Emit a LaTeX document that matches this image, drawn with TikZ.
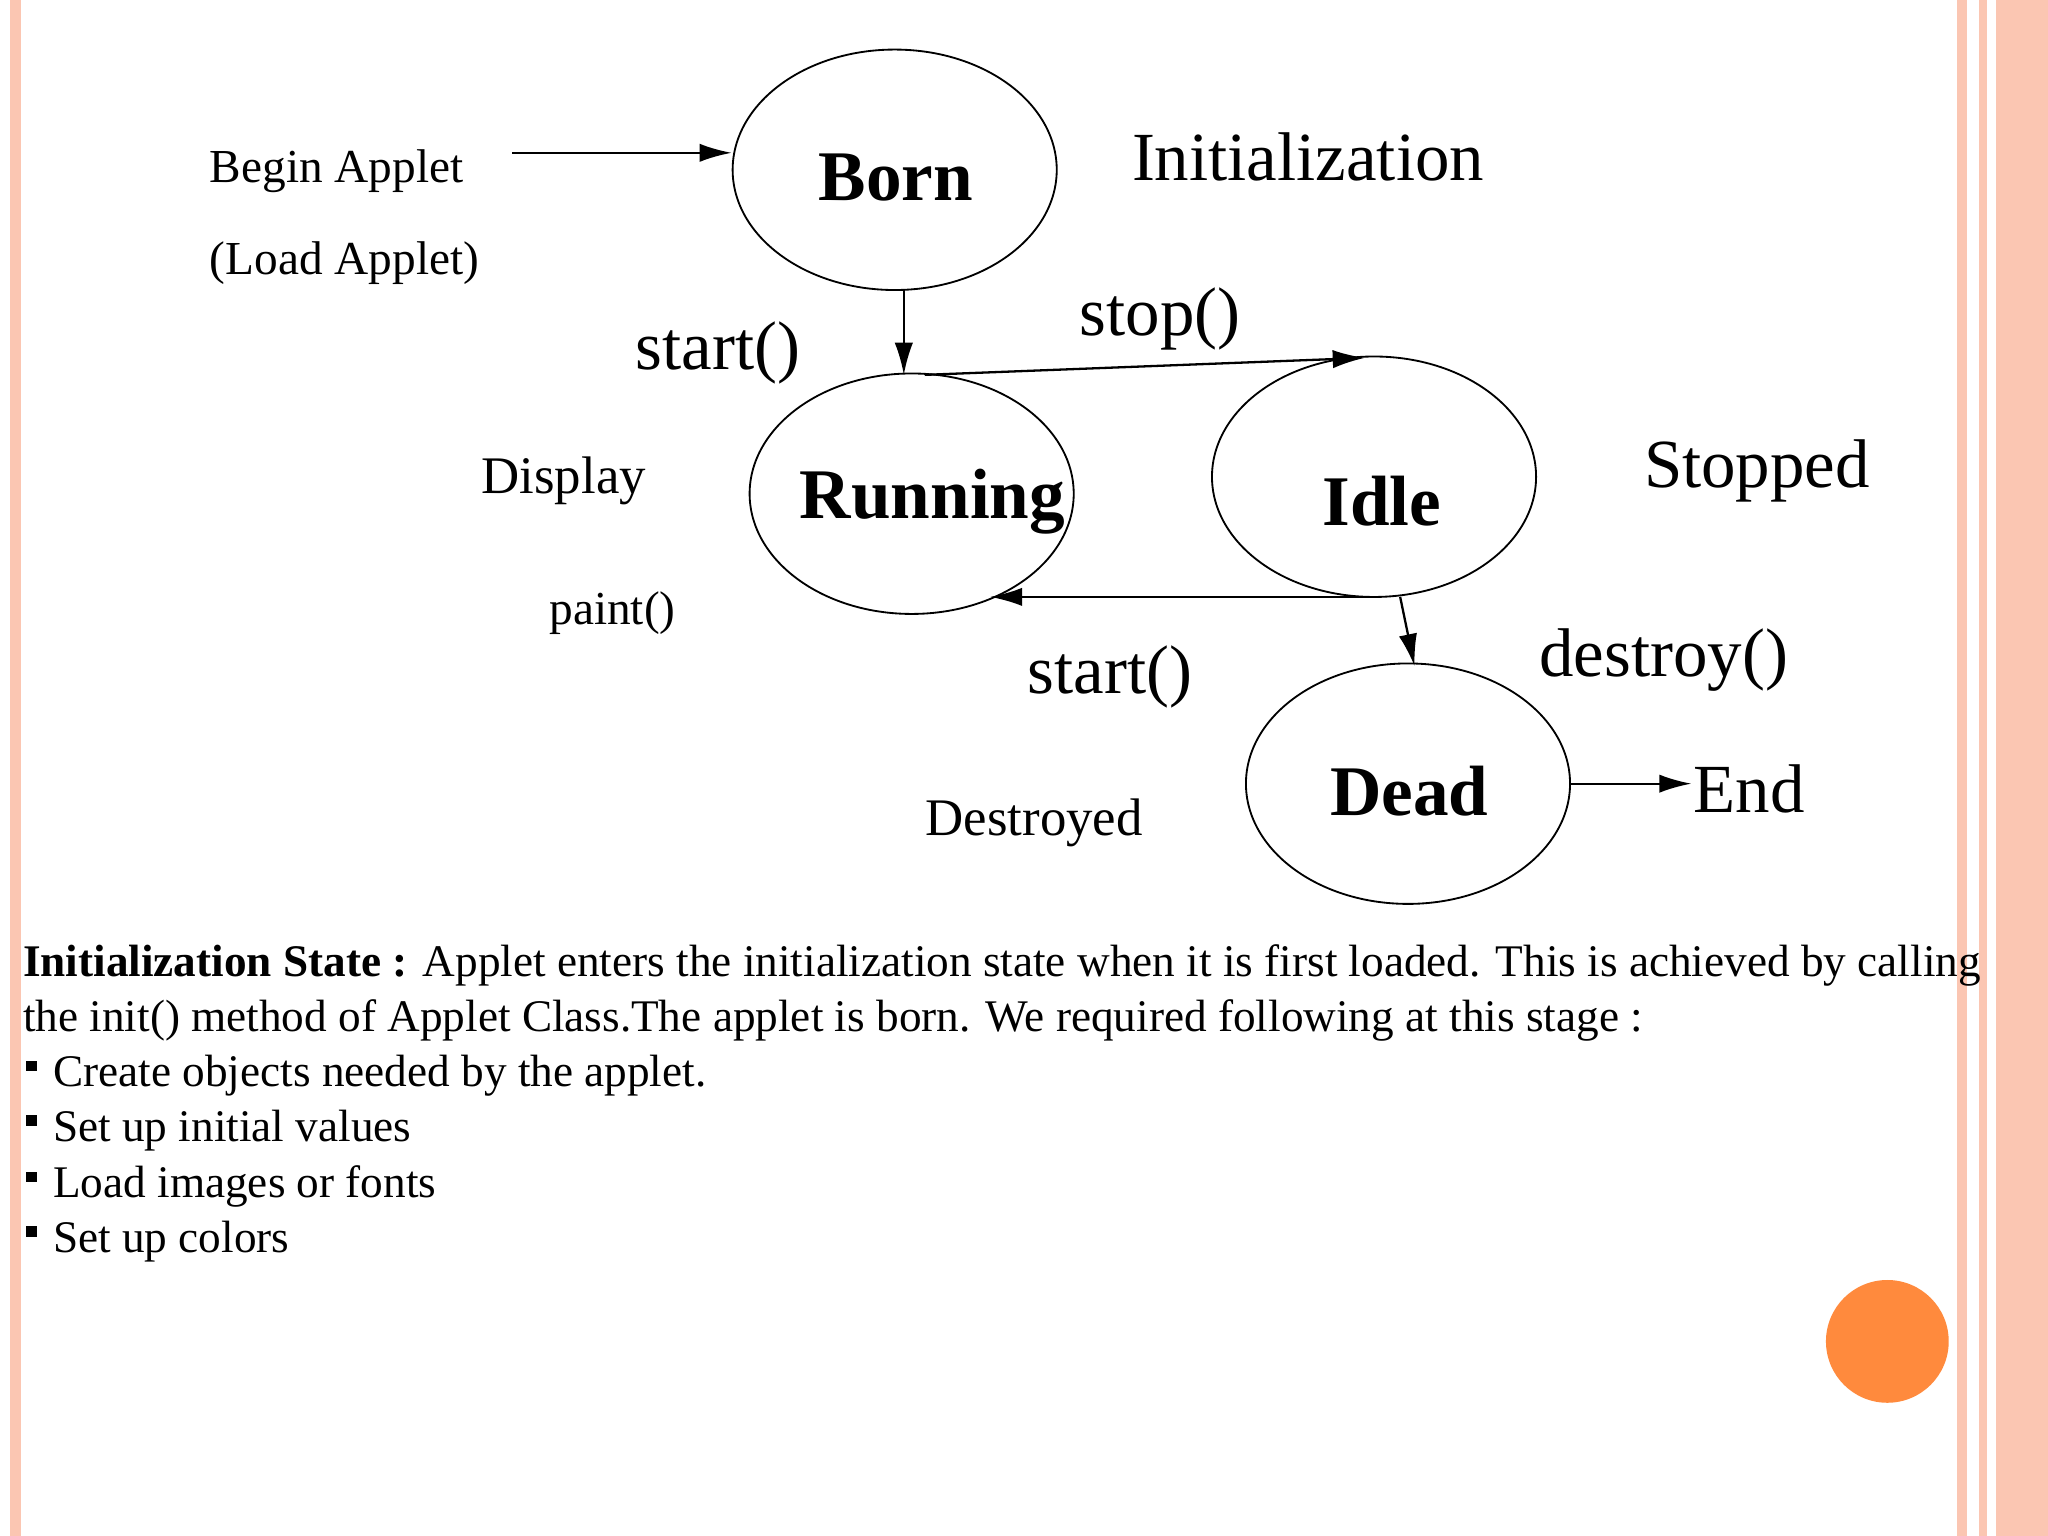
\documentclass[tikz,border=0pt]{standalone}
\usepackage{fontspec}
\setmainfont{Liberation Serif}
\usetikzlibrary{arrows.meta,shapes.geometric}
\definecolor{strip}{HTML}{FBC6B2}
\definecolor{dot}{HTML}{FF8A3D}
\begin{document}
\begin{tikzpicture}[x=0.01cm,y=-0.01cm,
  st/.style={draw,ellipse,inner sep=0,minimum width=2.48cm,minimum height=1.84cm},
  stl/.style={inner sep=0,font=\fontsize{15.5}{18}\selectfont\bfseries},
  lab/.style={anchor=base west,inner sep=0,font=\fontsize{#1}{#1}\selectfont},
  lab/.default=10.3,
  arr/.style={-{Latex[length=7pt,width=4pt]},line width=0.5pt},
  body/.style={anchor=base west,inner sep=0,font=\fontsize{9.85}{12}\selectfont}]
\useasboundingbox (0,0) rectangle (1568,1176);
\fill[white] (0,0) rectangle (1568,1176);
\fill[strip] (8,0) rectangle (16,1176);
\fill[strip] (1498,0) rectangle (1506,1176);
\fill[strip] (1515,0) rectangle (1521,1176);
\fill[strip] (1528,0) rectangle (1568,1176);
\node[st] (born) at (685,130) {};
\node[st] (run) at (698,378) {};
\node[st] (idle) at (1052,365) {};
\node[st] (dead) at (1078,600) {};
\node[stl] at (686,136) {Born};
\node[stl] at (714,384) {Running};
\node[stl] at (1058,384) {Idle};
\node[stl] at (1079,606) {Dead};
\node[lab] (ba) at (160,140) {Begin Applet};
\node[lab] at (160,210) {(Load Applet)};
\coordinate (bs) at (392,117);
\draw[arr] (bs) -- (born.west |- bs);
\draw[arr] (692,222) -- (692,287);
\draw[arr] (708,287) -- (1045,274);
\draw[arr] (1052,457) -- (758,457);
\draw[arr] (1072,457) -- (1083,510);
\coordinate (endp) at (1295,600);
\draw[arr] (dead.east) -- (endp);
\node[lab=15] at (866,138) {Initialization};
\node[lab=15] at (486,283) {start()};
\node[lab=15] at (826,257) {stop()};
\node[lab=11.5] at (368,378) {Display};
\node[lab=10.3] at (420,478) {paint()};
\node[lab=15] at (1258,373) {Stopped};
\node[lab=15] at (786,531) {start()};
\node[lab=15] at (1178,518) {destroy()};
\node[lab=11.5] at (708,640) {Destroyed};
\node[lab=15] at (1296,622) {End};
\node[body] at (17,748) {\textbf{Initialization State :} Applet enters the initialization state when it is first loaded. This is achieved by calling};
\node[body] at (17,790) {the init() method of Applet Class.The applet is born. We required following at this stage :};
\foreach \y/\t in {832/Create objects needed by the applet.,874/Set up initial values,917/Load images or fonts,959/Set up colors}{
  \fill (20,\y-20) rectangle (28,\y-12);
  \node[body] at (40,\y) {\t};
}
\fill[dot] (1445,1027) circle (47);
\end{tikzpicture}
\end{document}
